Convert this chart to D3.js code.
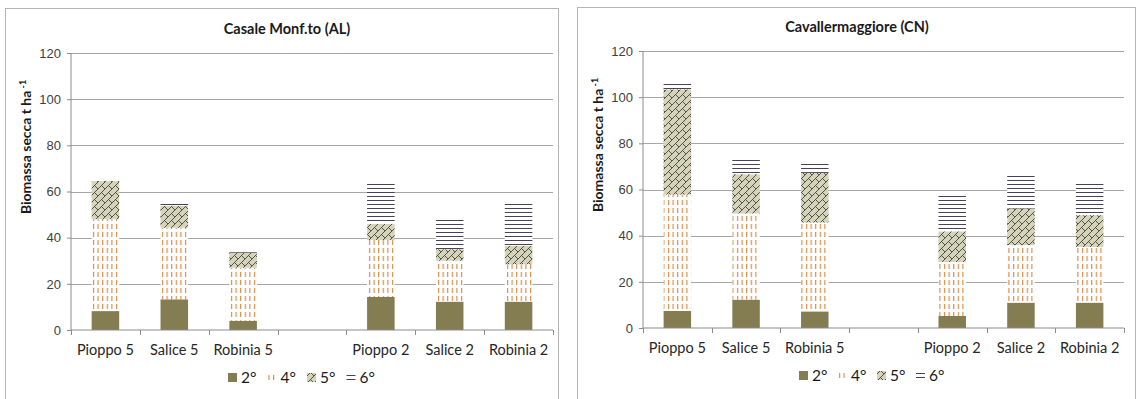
<!DOCTYPE html>
<html lang="it">
<head>
<meta charset="UTF-8">
<title>Biomassa secca</title>
<script src="https://d3js.org/d3.v7.min.js"></script>
<style>
  body { margin: 0; background: #fff; }
  svg { display: block; font-family: Lato, "Open Sans", sans-serif; }
  .tick text { fill: #404040; font-size: 13px; }
</style>
</head>
<body>
<svg id="chart" width="1139" height="399"></svg>
<script>
// categories (the 4th slot is an empty gap in the original chart)
const categories = ["Pioppo 5", "Salice 5", "Robinia 5", "", "Pioppo 2", "Salice 2", "Robinia 2"];
const seriesNames = ["2°", "4°", "5°", "6°"];
const yTicks = [0, 20, 40, 60, 80, 100, 120];

// Casale Monf.to (AL) - segment heights per year
const casale2 = [8.2, 13.3, 4, 0, 14.3, 12.3, 12.3];
const casale4 = [39.8, 31, 23, 0, 24.7, 17.7, 16.2];
const casale5 = [16.5, 9.6, 6.5, 0, 7, 5, 8];
const casale6 = [0, 0.9, 1.5, 0, 17.7, 12.7, 18.5];

// Cavallermaggiore (CN)
const cav2 = [7.4, 12.3, 7.2, 0, 5.2, 11, 11];
const cav4 = [50.4, 37.3, 38.5, 0, 23.4, 24.9, 24.1];
const cav5 = [45.6, 17, 21.5, 0, 13.3, 15.9, 13.8];
const cav6 = [2.3, 7, 4.5, 0, 15.6, 14.5, 14];

const svg = d3.select("#chart");
const defs = svg.append("defs");

// patterns roughly like the Excel fills
const pDash = defs.append("pattern").attr("id", "p4")
  .attr("patternUnits", "userSpaceOnUse").attr("width", 4.6).attr("height", 8);
pDash.append("rect").attr("width", 4.6).attr("height", 8).attr("fill", "#fff");
pDash.append("line").attr("x1", 1.5).attr("x2", 1.5).attr("y1", 0).attr("y2", 5)
  .attr("stroke", "#d98c45").attr("stroke-width", 1.2);

// diagonal brick
const bs = 7, h = bs / 2;
const pBrick = defs.append("pattern").attr("id", "p5")
  .attr("patternUnits", "userSpaceOnUse").attr("width", bs).attr("height", bs);
pBrick.append("rect").attr("width", bs).attr("height", bs).attr("fill", "#d6d3bb");
[[0, bs, bs, 0], [-1, 1, 1, -1], [bs - 1, bs + 1, bs + 1, bs - 1], [h, h, bs, bs]]
  .forEach(d => pBrick.append("line")
    .attr("x1", d[0]).attr("y1", d[1]).attr("x2", d[2]).attr("y2", d[3])
    .attr("stroke", "#45443a").attr("stroke-width", 0.9));

const pHor = defs.append("pattern").attr("id", "p6")
  .attr("patternUnits", "userSpaceOnUse").attr("width", 4).attr("height", 4);
pHor.append("rect").attr("width", 4).attr("height", 4).attr("fill", "#fff");
pHor.append("line").attr("x1", 0).attr("x2", 4).attr("y1", 0.5).attr("y2", 0.5)
  .attr("stroke", "#45425a").attr("stroke-width", 1);

const fills = ["#857d52", "url(#p4)", "url(#p5)", "url(#p6)"];

function drawChart(o) {
  const g = svg.append("g");

  g.append("rect")
    .attr("x", o.frame[0]).attr("y", o.frame[1])
    .attr("width", o.frame[2]).attr("height", 420)
    .attr("fill", "#fff").attr("stroke", "#b5b5b5");

  const x = d3.scaleBand().domain(d3.range(categories.length))
    .range([o.x0, o.x1]).paddingInner(0.6).paddingOuter(0.3);
  const y = d3.scaleLinear().domain([0, 120]).range([o.y0, o.y1]);

  // gridlines
  g.append("g").selectAll("line").data(yTicks.slice(1)).join("line")
    .attr("x1", o.x0).attr("x2", o.x1)
    .attr("y1", d => Math.round(y(d)) + 0.5).attr("y2", d => Math.round(y(d)) + 0.5)
    .attr("stroke", "#a6a6a6");

  // stacked bars
  const data = categories.map((c, i) => ({
    i, vals: [o.s[0][i], o.s[1][i], o.s[2][i], o.s[3][i]]
  }));
  const stack = d3.stack().keys([0, 1, 2, 3]).value((d, k) => d.vals[k]);
  const layers = stack(data);
  g.append("g").selectAll("g").data(layers).join("g")
    .attr("fill", (d, k) => fills[k])
    .selectAll("rect").data(d => d.filter(p => p[1] > p[0])).join("rect")
    .attr("x", p => x(p.data.i))
    .attr("width", x.bandwidth())
    .attr("y", p => y(p[1]))
    .attr("height", p => y(p[0]) - y(p[1]));

  // y axis
  const ya = g.append("g").attr("transform", `translate(${o.x0},0)`)
    .call(d3.axisLeft(y).tickValues(yTicks).tickSize(4).tickPadding(6));
  ya.selectAll("line").attr("stroke", "#8c8c8c");
  ya.select(".domain").attr("stroke", "#8c8c8c").attr("d", `M0,${o.y0}V${o.y1}`);

  // x axis with ticks at slot boundaries
  const xb = d3.scaleLinear().domain([0, categories.length]).range([o.x0, o.x1]);
  const xa = g.append("g").attr("transform", `translate(0,${o.y0})`);
  xa.append("line").attr("x1", o.x0).attr("x2", o.x1).attr("stroke", "#8c8c8c");
  xa.selectAll(".tk").data(d3.range(categories.length + 1)).join("line")
    .attr("x1", d => Math.round(xb(d)) + 0.5).attr("x2", d => Math.round(xb(d)) + 0.5)
    .attr("y1", 0).attr("y2", 5).attr("stroke", "#8c8c8c");
  xa.selectAll("text").data(categories).join("text")
    .attr("x", (d, i) => xb(i + 0.5)).attr("y", 25)
    .attr("text-anchor", "middle").attr("fill", "#262626")
    .style("font-size", "14.5px").text(d => d);

  // titles
  g.append("text").attr("x", o.titleX).attr("y", o.titleY)
    .attr("text-anchor", "middle").style("font-weight", "bold").style("font-size", "14.5px")
    .attr("fill", "#1a1a1a").text(o.title);

  const yt = g.append("text")
    .attr("transform", `translate(${o.ytX},${o.ytY}) rotate(-90)`)
    .attr("text-anchor", "middle").style("font-weight", "bold").style("font-size", "14px")
    .attr("fill", "#1a1a1a");
  yt.append("tspan").text("Biomassa secca t ha");
  yt.append("tspan").attr("dy", -5).style("font-size", "9px").text(" -1");

  // legend
  const lg = g.append("g").attr("transform", `translate(${o.legX},${o.legY})`);
  const items = lg.selectAll("g").data(seriesNames).join("g")
    .attr("transform", (d, i) => `translate(${o.legStep * i},0)`);
  items.append("rect").attr("x", 0).attr("y", -10).attr("width", 9).attr("height", 9)
    .attr("fill", (d, i) => fills[i]);
  items.append("text").attr("x", 13).attr("y", 0)
    .style("font-size", "15.5px").attr("fill", "#1a1a1a").text(d => d);
}

drawChart({
  frame: [5.5, 8.5, 553],
  x0: 71, x1: 553, y0: 330, y1: 53,
  s: [casale2, casale4, casale5, casale6],
  title: "Casale Monf.to (AL)", titleX: 287, titleY: 34,
  ytX: 31, ytY: 147,
  legX: 228, legY: 383, legStep: 39.5
});

drawChart({
  frame: [577.5, 7.5, 558],
  x0: 643, x1: 1124, y0: 328, y1: 51,
  s: [cav2, cav4, cav5, cav6],
  title: "Cavallermaggiore (CN)", titleX: 857, titleY: 32,
  ytX: 603, ytY: 145,
  legX: 799, legY: 381, legStep: 39
});
</script>
</body>
</html>
